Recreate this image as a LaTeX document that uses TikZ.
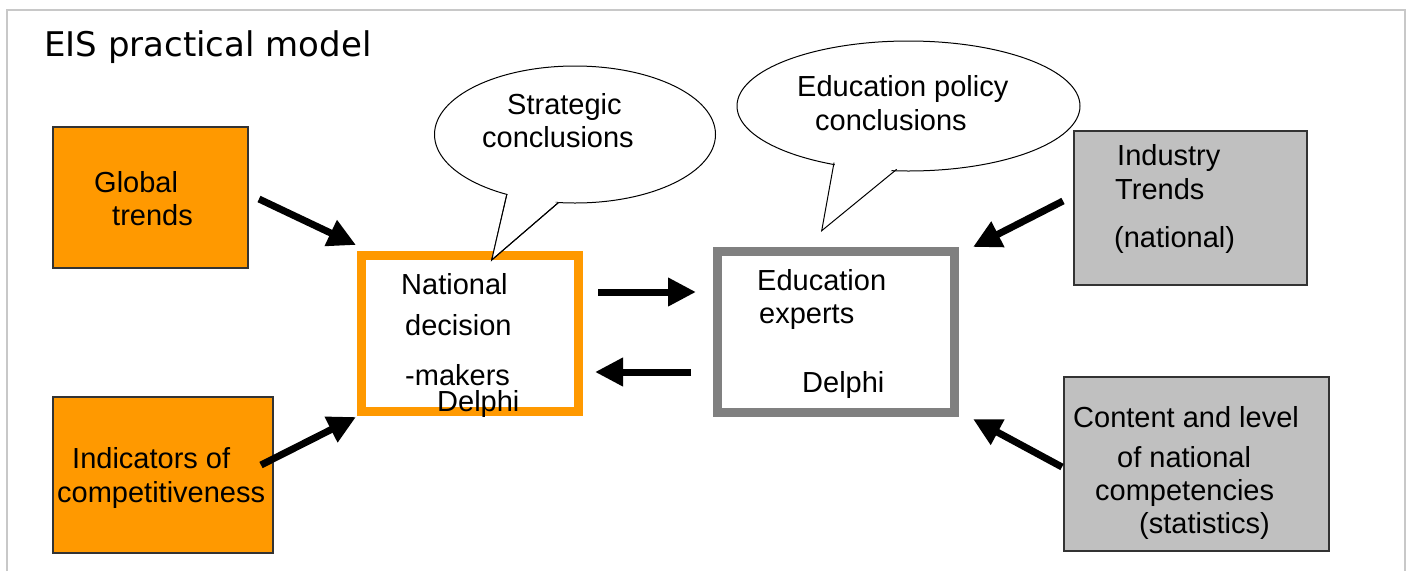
\documentclass[tikz,border=0pt]{standalone}
\usepackage{fontspec}
\setmainfont{Liberation Sans}
\newfontfamily\titlefont{DejaVu Sans}
\usetikzlibrary{arrows.meta,shapes.geometric}
\definecolor{eisorange}{HTML}{FF9900}
\definecolor{eisgray}{HTML}{C0C0C0}
\definecolor{eisdark}{HTML}{808080}
\definecolor{framegray}{HTML}{C8C8C8}
\tikzset{
  inbox/.style={draw=black!80, line width=1.2pt, inner sep=0pt},
  orangebox/.style={inbox, fill=eisorange},
  graybox/.style={inbox, fill=eisgray},
  actorbox/.style={line width=9pt, fill=white, inner sep=0pt},
  txt/.style={anchor=base west, inner sep=0pt, font=\fontsize{29}{33}\selectfont},
  bubble/.style={ellipse, draw=black, line width=1pt, fill=white, inner sep=0pt},
  bigarrow/.style={line width=7pt, -{Triangle[length=28pt,width=27pt]}},
}
\begin{document}
\begin{tikzpicture}[x=1pt,y=-1pt]
\useasboundingbox (0,0) rectangle (1413,571);
% frame
\draw[framegray, line width=2pt] (7,571) -- (7,10) -- (1405,10) -- (1405,571);
\node[anchor=base west, inner sep=0pt, font=\titlefont\fontsize{34}{40}\selectfont] (title) at (44,56) {EIS practical model};

% input boxes
\node[orangebox, minimum width=195pt, minimum height=141pt] (glob) at (150.5,197.5) {};
\node[orangebox, minimum width=220pt, minimum height=156pt] (indic) at (163,475) {};
\node[graybox, minimum width=233pt, minimum height=154pt] (indus) at (1190.5,208) {};
\node[graybox, minimum width=265pt, minimum height=174pt] (cont) at (1196.5,464) {};

% actor boxes
\node[actorbox, draw=eisorange, minimum width=217pt, minimum height=156pt] (nat) at (470,333.5) {};
\node[actorbox, draw=eisdark, minimum width=237pt, minimum height=161pt] (edu) at (836,332) {};

% callouts
\node[bubble, minimum width=281pt, minimum height=137pt] (s1) at (575,134.5) {};
\draw[line width=1pt, fill=white] (506.7,195) -- (491.7,260) -- (558.3,202.7);
\fill[white] (508,193) -- (492,257) -- (556,201) -- cycle;
\draw[line width=1pt] (506.7,195) -- (491.7,260) -- (558.3,202.7);

\node[bubble, minimum width=343pt, minimum height=130pt] (s2) at (908.5,106) {};
\fill[white] (835.5,161) -- (822,228) -- (895,167.5) -- cycle;
\draw[line width=1pt] (834,162.7) -- (821.7,230.7) -- (896.7,169.3);

% texts
\node[txt] (tg1) at (94,192) {Global};
\node[txt] (tg2) at (112,225) {trends};
\node[txt] (ti1) at (72,468) {Indicators of};
\node[txt] (ti2) at (57,502) {competitiveness};
\node[txt] (tn1) at (401,294) {National};
\node[txt] (tn2) at (405,335) {decision};
\node[txt] (tn3) at (405,385) {-makers};
\node[txt] (tn4) at (437,411) {Delphi};
\node[txt] (te1) at (757,290) {Education};
\node[txt] (te2) at (759,323) {experts};
\node[txt] (te3) at (802,392) {Delphi};
\node[txt] (ty1) at (1117,165) {Industry};
\node[txt] (ty2) at (1115,199) {Trends};
\node[txt] (ty3) at (1114,247) {(national)};
\node[txt] (tc1) at (1073,427) {Content and level};
\node[txt] (tc2) at (1117,467) {of national};
\node[txt] (tc3) at (1095,500) {competencies};
\node[txt] (tc4) at (1139,533) {(statistics)};
\node[txt] (ts1) at (507,114) {Strategic};
\node[txt] (ts2) at (482,147) {conclusions};
\node[txt] (tp1) at (797,96) {Education policy};
\node[txt] (tp2) at (815,130) {conclusions};

% arrows
\coordinate (a1s) at (259,199);
\coordinate (a1e) at (356,245);
\coordinate (a2s) at (261,465);
\coordinate (a2e) at (356,417);
\coordinate (a3s) at (598,292);
\coordinate (a3e) at (696,292);
\coordinate (a4s) at (691,372);
\coordinate (a4e) at (595,372);
\coordinate (a5s) at (1063,201);
\coordinate (a5e) at (973,247);
\coordinate (a6s) at (1062,467);
\coordinate (a6e) at (973,419);
\draw[bigarrow] (a1s) -- (a1e);
\draw[bigarrow] (a2s) -- (a2e);
\draw[bigarrow] (a3s) -- (a3e);
\draw[bigarrow] (a4s) -- (a4e);
\draw[bigarrow] (a5s) -- (a5e);
\draw[bigarrow] (a6s) -- (a6e);
\end{tikzpicture}
\end{document}
